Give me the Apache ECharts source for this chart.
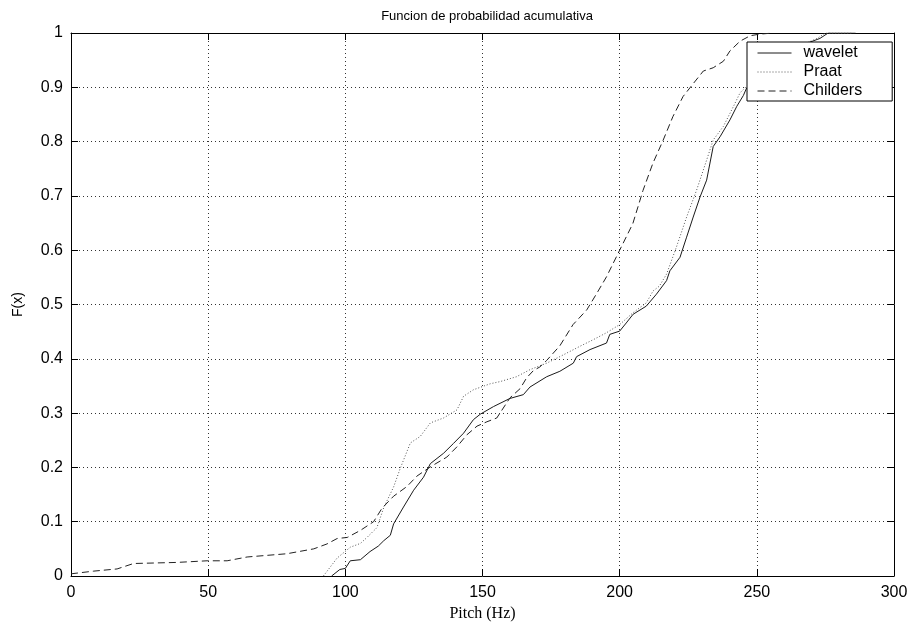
<!DOCTYPE html>
<html>
<head>
<meta charset="utf-8">
<script src="https://cdn.jsdelivr.net/npm/echarts@6/dist/echarts.min.js"></script>
<style>html,body{margin:0;padding:0;background:#fff}#c{width:913px;height:622px}</style>
</head>
<body>
<div id="c"></div>
<script>
var titleText = 'Funcion de probabilidad acumulativa';
var xLabel = 'Pitch (Hz)';
var yLabel = 'F(x)';
var seriesNames = ['wavelet', 'Praat', 'Childers'];
var xTicks = [0, 50, 100, 150, 200, 250, 300];
var yTicks = ['0', '0.1', '0.2', '0.3', '0.4', '0.5', '0.6', '0.7', '0.8', '0.9', '1'];

var wavelet = [[95,0],[98,0.012],[100,0.014],[101.8,0.028],[105.5,0.03],[109,0.045],[112,0.055],[114,0.065],[116.4,0.075],[117.6,0.096],[121.2,0.127],[124.9,0.158],[128.5,0.182],[131,0.207],[135.8,0.226],[139.4,0.244],[143.1,0.263],[146.7,0.288],[149.2,0.298],[154,0.312],[160,0.327],[164.9,0.334],[167.3,0.348],[173.4,0.367],[178.2,0.377],[183.1,0.392],[184.3,0.404],[189.2,0.417],[195.2,0.429],[196.4,0.445],[200,0.451],[202.4,0.466],[204.9,0.482],[209.7,0.497],[213.4,0.519],[217.1,0.544],[218.3,0.562],[222,0.587],[224.4,0.624],[226.8,0.661],[229.3,0.698],[231.7,0.729],[234.1,0.791],[236.6,0.809],[240.2,0.84],[242.7,0.865],[245.1,0.885],[246.3,0.899],[255,0.94],[265,0.975],[273,0.99],[276,1.0],[286,1.0]];

var praat = [[92,0],[97,0.033],[101.8,0.053],[105.5,0.06],[107.9,0.071],[111.5,0.089],[114,0.126],[117.6,0.164],[120,0.198],[123.7,0.245],[127.3,0.257],[131,0.282],[135.8,0.291],[140.7,0.306],[143.1,0.331],[146.7,0.343],[152.8,0.354],[156.4,0.358],[162.4,0.367],[167.3,0.38],[173.4,0.392],[178.2,0.404],[185.5,0.423],[190.3,0.435],[195.2,0.448],[200,0.463],[204.9,0.485],[209.7,0.503],[212.2,0.525],[214.5,0.534],[217.1,0.556],[220.7,0.606],[224.4,0.661],[228,0.71],[231.7,0.766],[234.1,0.803],[237.8,0.828],[241.5,0.865],[243.9,0.89],[246.3,0.902],[255,0.94],[265,0.975],[272,0.99],[275,1.0],[285,1.0]];

var childers = [[0,0.004],[8.3,0.009],[16.8,0.013],[22.8,0.023],[38.6,0.025],[49.6,0.028],[56.9,0.028],[64.2,0.035],[78.7,0.041],[88.5,0.05],[93.3,0.059],[97,0.069],[100.7,0.071],[105.5,0.084],[110.3,0.1],[113.4,0.125],[117.6,0.147],[122.5,0.165],[126.1,0.184],[131,0.201],[137,0.219],[140.7,0.238],[144.3,0.26],[148,0.276],[151.6,0.284],[155.2,0.291],[160,0.328],[163.7,0.345],[166.1,0.365],[168.5,0.378],[170.9,0.385],[173.4,0.397],[178.2,0.424],[183,0.463],[188,0.49],[191.6,0.52],[195.2,0.551],[200,0.6],[204.8,0.649],[208.5,0.71],[212.1,0.76],[215.8,0.802],[219.4,0.846],[223.1,0.883],[226.7,0.906],[230.5,0.93],[234.1,0.936],[237.8,0.948],[240.2,0.967],[243.9,0.985],[247.6,0.995],[251.2,0.998],[256,1.0]];

var font = 'Liberation Sans, Arial, sans-serif';
var chart = echarts.init(document.getElementById('c'), null, {renderer: 'canvas'});

function xAx(pos, showLabels) {
  return {
    type: 'value', position: pos, min: 0, max: 300, interval: 50,
    name: showLabels ? xLabel : '', nameLocation: 'middle', nameGap: 21,
    nameTextStyle: {fontFamily: 'Liberation Serif, Times New Roman, serif', fontSize: 16, color: '#000'},
    axisLine: {show: true, onZero: false, lineStyle: {color: '#000', width: 1}},
    axisTick: {show: true, inside: true, length: 7, lineStyle: {color: '#000'}},
    axisLabel: {show: showLabels, fontFamily: font, fontSize: 16, color: '#000', margin: 9,
      formatter: function (v) { var i = xTicks.indexOf(v); return i >= 0 ? String(xTicks[i]) : ''; }},
    splitLine: {show: showLabels, lineStyle: {type: [1, 3], color: '#333', width: 1}}
  };
}
function yAx(pos, showLabels) {
  return {
    type: 'value', position: pos, min: 0, max: 1, interval: 0.1,
    name: showLabels ? yLabel : '', nameLocation: 'middle', nameGap: 46, nameRotate: 90,
    nameTextStyle: {fontFamily: font, fontSize: 14, color: '#000'},
    axisLine: {show: true, onZero: false, lineStyle: {color: '#000', width: 1}},
    axisTick: {show: true, inside: true, length: 7, lineStyle: {color: '#000'}},
    axisLabel: {show: showLabels, fontFamily: font, fontSize: 16, color: '#000', margin: 8,
      formatter: function (v) { return yTicks[Math.round(v * 10)]; }},
    splitLine: {show: showLabels, lineStyle: {type: [1, 3], color: '#333', width: 1}}
  };
}

chart.setOption({
  animation: false,
  backgroundColor: '#fff',
  title: {text: titleText, left: 482, textAlign: 'center', top: 5,
    textStyle: {fontFamily: font, fontSize: 13, fontWeight: 'normal', color: '#000'}},
  grid: {left: 71, right: 19, top: 33, bottom: 46, containLabel: false, outerBoundsMode: 'none'},
  xAxis: [xAx('bottom', true), xAx('top', false)],
  yAxis: [yAx('left', true), yAx('right', false)],
  legend: {
    orient: 'vertical', left: 747, top: 42,
    data: seriesNames,
    backgroundColor: '#fff', borderColor: '#000', borderWidth: 1,
    padding: [3, 30, 2, 10], itemGap: 3, itemWidth: 34, itemHeight: 15,
    itemStyle: {opacity: 0},
    lineStyle: {width: 1},
    textStyle: {fontFamily: font, fontSize: 16, color: '#000', padding: [0, 0, 0, 7]}
  },
  series: [
    {name: seriesNames[0], type: 'line', data: wavelet, showSymbol: false, symbol: 'none',
      lineStyle: {color: '#1a1a1a', width: 1, type: 'solid'}, itemStyle: {color: '#1a1a1a'}},
    {name: seriesNames[1], type: 'line', data: praat, showSymbol: false, symbol: 'none',
      lineStyle: {color: '#555', width: 1, type: [1, 2]}, itemStyle: {color: '#555'}},
    {name: seriesNames[2], type: 'line', data: childers, showSymbol: false, symbol: 'none',
      lineStyle: {color: '#222', width: 1, type: [7, 4]}, itemStyle: {color: '#222'}}
  ]
});
</script>
</body>
</html>
